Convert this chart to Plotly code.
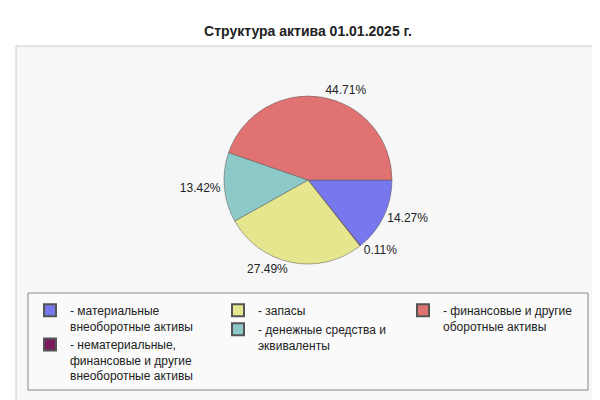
import plotly.graph_objects as go

labels = ["- материальные<br>внеоборотные активы",
          "- нематериальные,<br>финансовые и другие<br>внеоборотные активы",
          "- запасы",
          "- денежные средства и<br>эквиваленты",
          "- финансовые и другие<br>оборотные активы"]
values = [14.27, 0.11, 27.49, 13.42, 44.71]
colors = ["#7777ee", "#7a1a5a", "#e6e68f", "#8ec9c9", "#e07272"]
legend_groups = ["legend", "legend", "legend2", "legend2", "legend3"]

fig = go.Figure(go.Pie(
    labels=labels, values=values, sort=False, direction="clockwise", rotation=90,
    marker=dict(colors=colors, line=dict(color="#555", width=0.5)),
    texttemplate="%{value:.2f}%", textposition="outside",
    textfont=dict(size=12, color="#222"), hoverinfo="label+value",
    domain=dict(x=[0.29, 0.71], y=[0.36, 0.78]), showlegend=False))

for lab, col, lg in zip(labels, colors, legend_groups):
    fig.add_trace(go.Scatter(x=[None], y=[None], mode="markers", name=lab, legend=lg,
                             marker=dict(symbol="square", size=11, color=col,
                                         line=dict(color="#555", width=0.5))))

leg = dict(orientation="v", yanchor="top", xanchor="left", y=1-288/400,
           bgcolor="rgba(0,0,0,0)", font=dict(size=12, color="#222"),
           tracegroupgap=0, itemsizing="constant", valign="top")
fig.update_layout(
    width=600, height=400, margin=dict(l=0, r=0, t=0, b=0),
    paper_bgcolor="white", plot_bgcolor="rgba(0,0,0,0)",
    font=dict(family="Arial, Liberation Sans", size=12, color="#222"),
    xaxis=dict(visible=False), yaxis=dict(visible=False),
    title=dict(text="<b>Структура актива 01.01.2025 г.</b>", x=0.5, y=0.955,
               xanchor="center", font=dict(size=14)),
    shapes=[
        dict(type="rect", xref="paper", yref="paper", x0=8/600, x1=592/600,
             y0=1-395/400, y1=1-38/400, fillcolor="#f7f7f7", line=dict(color="#ccc", width=1), layer="below"),
        dict(type="rect", xref="paper", yref="paper", x0=20/600, x1=580/600,
             y0=1-382/400, y1=1-285/400, fillcolor="#fafafa", line=dict(color="#888", width=1), layer="below"),
    ],
    legend=dict(leg, x=22/600),
    legend2=dict(leg, x=210/600),
    legend3=dict(leg, x=395/600),
)
fig.write_html("out.html")
